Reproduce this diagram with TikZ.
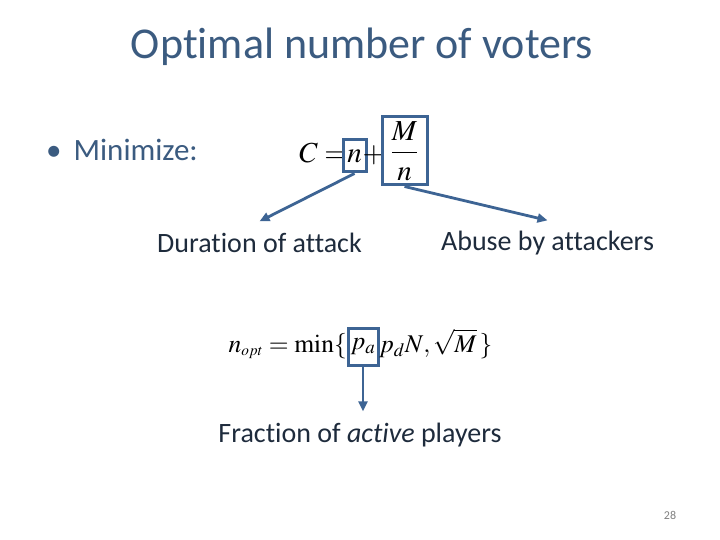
\documentclass[tikz,border=0pt]{standalone}
\usepackage{amsmath}
\usepackage{mathptmx}
\usepackage{fontspec}
\setmainfont{Carlito}[Ligatures=NoCommon]
\usetikzlibrary{positioning}
\usetikzlibrary{arrows.meta}
\definecolor{titleblue}{HTML}{3B5B80}
\definecolor{boxblue}{HTML}{3D6494}
\definecolor{labeldark}{HTML}{1E2B3C}

\begin{document}
\begin{tikzpicture}[x=1pt,y=-1pt]
\tikzset{
hlbox/.style={draw=boxblue,line width=3pt,inner sep=0pt},
pointer/.style={draw=boxblue,line width=2.8pt,-{Triangle[length=10pt,width=9pt]}},
label/.style={font=\fontsize{28}{34}\selectfont,text=labeldark,anchor=base,inner sep=11pt}
}
\useasboundingbox (0,0) rectangle (720,540);

\node[font=\fontsize{44}{52}\selectfont,text=titleblue,anchor=base](title) at (362,59){Optimal number of voters};
\node[font=\fontsize{31}{37}\selectfont,text=titleblue,anchor=base west,inner sep=0pt](minimize) at (46,161){\textbullet\hspace{12pt}Minimize:};

% C = n + M/n
\node[font=\fontsize{29}{35}\selectfont,anchor=base east,inner sep=0pt](ceq) at (347,163){$C=$};
\node[hlbox,font=\fontsize{29}{35}\selectfont,minimum width=23,minimum height=32](nbox) at (354.5,156){$n$};
\node[font=\fontsize{29}{35}\selectfont,anchor=base,inner sep=0pt](plus) at (374,163){$+$};
\node[hlbox,font=\fontsize{29}{35}\selectfont,minimum width=45,minimum height=68](fracbox) at (404.5,151){$\dfrac{M}{n}$};

% n_opt
\node[font=\fontsize{25.5}{30}\selectfont,anchor=base east,inner sep=1pt](nopt) at (348,352){$n_{\scriptscriptstyle opt}=\min\{$};
\node[hlbox,font=\fontsize{25.5}{30}\selectfont,minimum width=30,minimum height=37](pabox) at (363,346.5){$p_a$};
\node[font=\fontsize{25.5}{30}\selectfont,anchor=base west,inner sep=1pt](rest) at (378,352){$p_d N,\sqrt{M}\,\}$};

\node[label](duration) at (259.5,252){Duration of attack};
\node[label](abuse) at (547.5,251){Abuse by attackers};
\node[label](fraction) at (360,442){Fraction of \textit{active} players};
\node[font=\fontsize{12}{14}\selectfont,text=gray](page) at (670,515){28};

\path
(nbox.south) edge[pointer] (duration.north)
(fracbox.south) edge[pointer] (abuse.north)
(pabox.south) edge[pointer] (pabox.south |- fraction.north);
\end{tikzpicture}
\end{document}
